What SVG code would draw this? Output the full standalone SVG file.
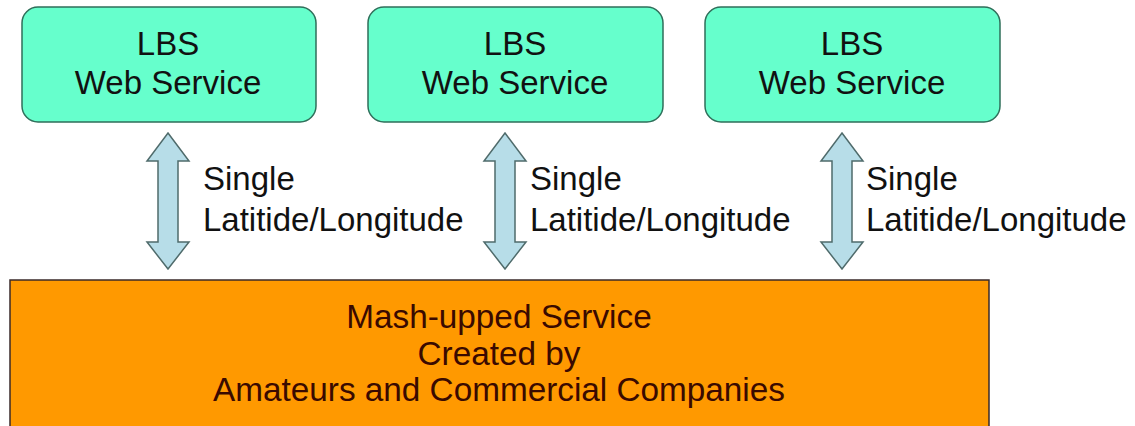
<svg xmlns="http://www.w3.org/2000/svg" width="1135" height="426" viewBox="0 0 1135 426">
<style>
.svc{fill:#66FFCC;stroke:#2F6F5A;stroke-width:1.5}
.arr{fill:#B7DDE8;stroke:#4F6B6B;stroke-width:1.5;stroke-linejoin:miter}
.t{font-family:"Liberation Sans",Arial,sans-serif;font-size:33px;fill:#111}
.tm{font-family:"Liberation Sans",Arial,sans-serif;font-size:33.3px;fill:#3A0A00}
.c{text-anchor:middle}
</style>
<defs>
<path id="dbl" d="M0,-67 L21,-39 L10,-39 L10,42 L21,42 L0,69 L-21,42 L-10,42 L-10,-39 L-21,-39 Z"/>
</defs>
<rect width="1135" height="426" fill="#fff"/>
<g id="svc1">
<rect class="svc" x="22" y="7" width="294" height="115" rx="16"/>
<text class="t c" x="168" y="55">LBS</text>
<text class="t c" x="168" y="94">Web Service</text>
</g>
<g id="svc2">
<rect class="svc" x="368" y="7" width="295" height="115" rx="16"/>
<text class="t c" x="515" y="55">LBS</text>
<text class="t c" x="515" y="94">Web Service</text>
</g>
<g id="svc3">
<rect class="svc" x="705" y="7" width="295" height="115" rx="16"/>
<text class="t c" x="852" y="55">LBS</text>
<text class="t c" x="852" y="94">Web Service</text>
</g>
<g id="mash">
<rect x="10" y="280" width="979" height="160" fill="#FF9900" stroke="#3A2A2A" stroke-width="1.5"/>
<text class="tm c" x="499" y="328">Mash-upped Service</text>
<text class="tm c" x="499" y="365">Created by</text>
<text class="tm c" x="499" y="401">Amateurs and Commercial Companies</text>
</g>
<g id="connectors">
<use href="#dbl" class="arr" transform="translate(168,200)"/>
<use href="#dbl" class="arr" transform="translate(505,200)"/>
<use href="#dbl" class="arr" transform="translate(842,200)"/>
<text class="t" x="203" y="190">Single</text>
<text class="t" x="203" y="231">Latitide/Longitude</text>
<text class="t" x="530" y="190">Single</text>
<text class="t" x="530" y="231">Latitide/Longitude</text>
<text class="t" x="866" y="190">Single</text>
<text class="t" x="866" y="231">Latitide/Longitude</text>
</g>
</svg>
